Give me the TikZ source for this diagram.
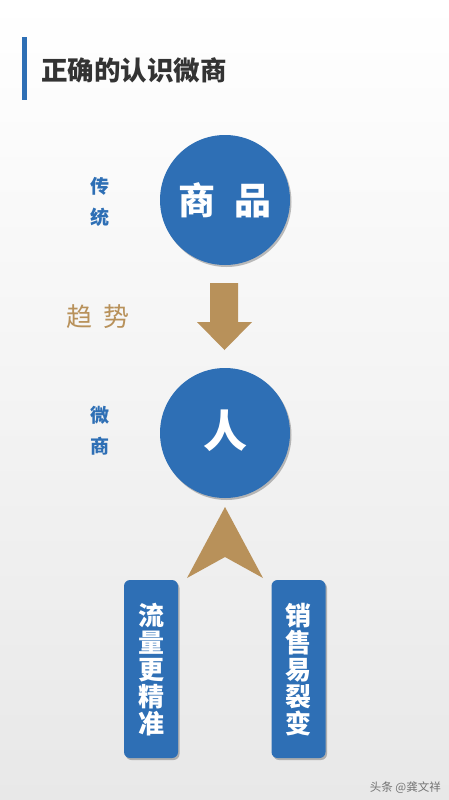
\documentclass[tikz,border=0pt]{standalone}
\usepackage{fontspec}
\newfontfamily\cjk{Noto Sans CJK SC}
\usetikzlibrary{shadows}
\definecolor{mblue}{HTML}{2E6FB5}
\definecolor{mtan}{HTML}{B8915A}
\definecolor{mgray}{HTML}{333333}
\tikzset{
  circ/.style={circle,fill=mblue,minimum size=130pt,inner sep=0pt,
    drop shadow={shadow xshift=1.5pt,shadow yshift=-2pt,opacity=0.25,fill=black}},
  vbox/.style={rounded corners=6pt,fill=mblue,minimum width=54pt,minimum height=178pt,inner sep=0pt,
    drop shadow={shadow xshift=1.5pt,shadow yshift=-2pt,opacity=0.25,fill=black}},
  side/.style={text=mblue,font=\cjk\bfseries\fontsize{19}{31}\selectfont,align=center,inner sep=0pt},
  boxtxt/.style={text=white,font=\cjk\bfseries\fontsize{26}{27}\selectfont,align=center,inner sep=0pt},
}
\begin{document}
\begin{tikzpicture}[x=1pt,y=-1pt]
\shade[top color=white,bottom color=black!9] (0,0) rectangle (449,800);
\useasboundingbox (0,0) rectangle (449,800);
% title
\fill[mblue] (22,37) rectangle (27,100);
\node[anchor=west,inner sep=0pt,text=mgray,font=\cjk\bfseries\fontsize{26.5}{30}\selectfont] (title) at (41,70) {正确的认识微商};
% circles
\node[circ] (c1) at (225,200) {};
\node[text=white,font=\cjk\bfseries\fontsize{37}{40}\selectfont,inner sep=0pt] (t1) at (225,200) {商\hspace{0.5em}品};
\node[circ] (c2) at (225,433) {};
\node[text=white,font=\cjk\bfseries\fontsize{44}{46}\selectfont,inner sep=0pt] (t2) at (225,431) {人};
% side labels
\node[side] (l1) at (100,202) {传\\统};
\node[side] (l2) at (100,431) {微\\商};
\node[text=mtan,font=\cjk\fontsize{26}{28}\selectfont,inner sep=0pt] (l3) at (98,317) {趋\hspace{0.4em}势};
% down arrow
\fill[mtan] (210,283) -- (238,283) -- (238,322) -- (252,322) -- (224.5,350) -- (197,322) -- (210,322) -- cycle;
% up chevron
\coordinate (tip) at (225,507);
\fill[mtan] (tip) -- (263,578) -- (225,557) -- (187,578) -- cycle;
% boxes
\node[vbox] (b1) at (151,669) {};
\node[boxtxt] (bt1) at (151,670) {流\\量\\更\\精\\准};
\node[vbox] (b2) at (298.5,669) {};
\node[boxtxt] (bt2) at (298.5,670) {销\\售\\易\\裂\\变};
% watermark
\node[anchor=east,text=black!55,font=\cjk\fontsize{11.5}{12}\selectfont,inner sep=0pt] (wm) at (441,788) {头条 @龚文祥};
\end{tikzpicture}
\end{document}
